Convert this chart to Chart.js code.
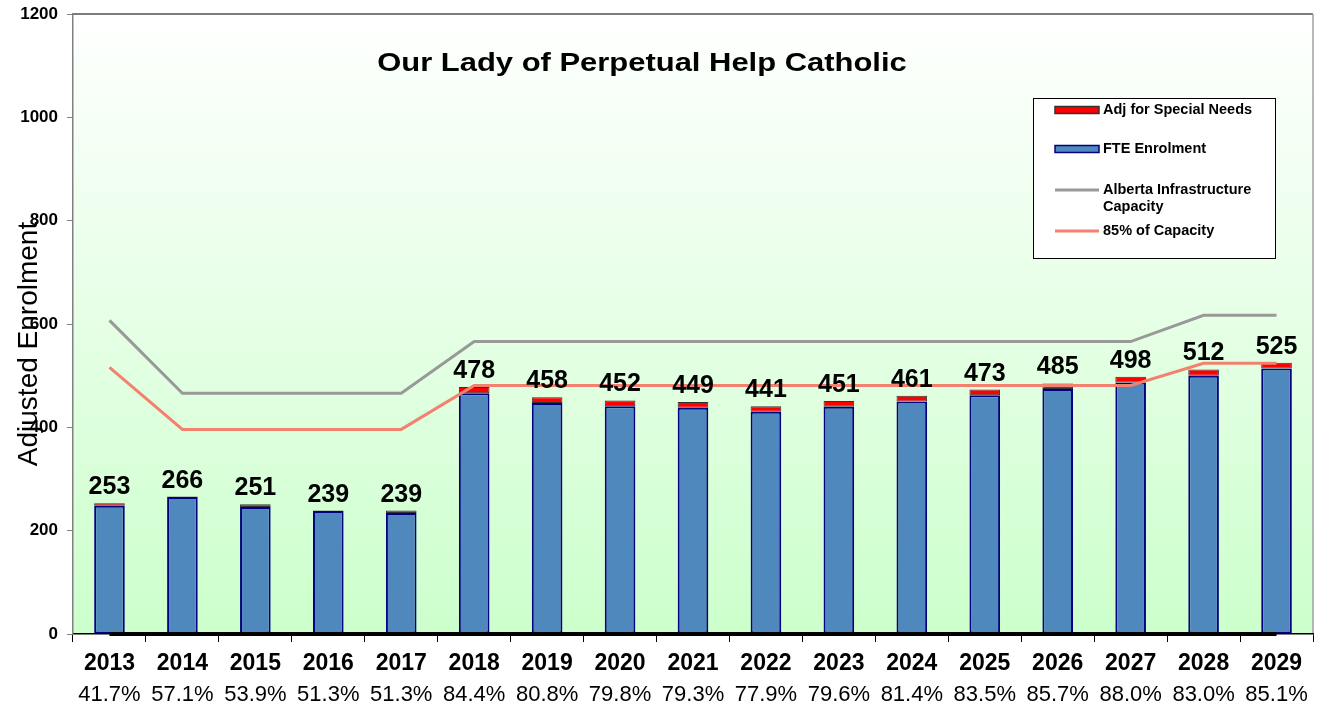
<!DOCTYPE html>
<html>
<head>
<meta charset="utf-8">
<title>Our Lady of Perpetual Help Catholic</title>
<script src="https://cdn.jsdelivr.net/npm/chart.js@4.4.0/dist/chart.umd.min.js"></script>
<style>
  html, body { margin: 0; padding: 0; background: #fff; }
  #wrap { width: 1328px; height: 713px; }
</style>
</head>
<body>
<div id="wrap"><canvas id="enrolment-chart" width="1328" height="713"></canvas></div>
<script>
// Values
const years = ['2013', '2014', '2015', '2016', '2017', '2018', '2019', '2020', '2021',
               '2022', '2023', '2024', '2025', '2026', '2027', '2028', '2029'];
const fteEnrolment = [248, 265, 246, 238, 234, 466, 447, 441, 438, 430, 440, 450, 462, 474, 487, 500, 514];
const adjSpecialNeeds = [5, 1, 5, 1, 5, 12, 11, 11, 11, 11, 11, 11, 11, 11, 11, 12, 11];
const capacity = [607, 466, 466, 466, 466, 566, 566, 566, 566, 566, 566, 566, 566, 566, 566, 617, 617];
const capacity85 = [516, 396, 396, 396, 396, 481, 481, 481, 481, 481, 481, 481, 481, 481, 481, 524, 524];
const baseline = [0, 0, 0, 0, 0, 0, 0, 0, 0, 0, 0, 0, 0, 0, 0, 0, 0];
const utilisation = ['41.7%', '57.1%', '53.9%', '51.3%', '51.3%', '84.4%', '80.8%', '79.8%', '79.3%',
                     '77.9%', '79.6%', '81.4%', '83.5%', '85.7%', '88.0%', '83.0%', '85.1%'];

const FONT = "'Liberation Sans', Arial, sans-serif";
Chart.defaults.font.family = FONT;
Chart.defaults.color = '#000';

// green gradient plot area with a thin frame on top and right
const plotBackground = {
    id: 'plotBackground',
    beforeDraw(chart) {
        const { ctx, chartArea: a } = chart;
        const g = ctx.createLinearGradient(0, a.top, 0, a.bottom);
        g.addColorStop(0, '#ffffff');
        g.addColorStop(1, '#ccffcc');
        ctx.save();
        ctx.fillStyle = g;
        ctx.fillRect(a.left, a.top, a.right - a.left, a.bottom - a.top);
        ctx.lineWidth = 1.5;
        ctx.beginPath();
        ctx.moveTo(a.left, a.top);
        ctx.lineTo(a.right, a.top);
        ctx.strokeStyle = '#505050';
        ctx.stroke();
        ctx.beginPath();
        ctx.moveTo(a.right, a.top);
        ctx.lineTo(a.right, a.bottom);
        ctx.strokeStyle = '#a0a0a0';
        ctx.stroke();
        ctx.restore();
    }
};

// total above every stacked bar
const totalLabels = {
    id: 'totalLabels',
    afterDatasetsDraw(chart) {
        const { ctx, scales: { x, y } } = chart;
        ctx.save();
        ctx.font = 'bold 25px ' + FONT;
        ctx.fillStyle = '#000';
        ctx.textAlign = 'center';
        ctx.textBaseline = 'alphabetic';
        years.forEach((yr, i) => {
            const total = fteEnrolment[i] + adjSpecialNeeds[i];
            ctx.fillText(String(total), x.getPixelForValue(i), y.getPixelForValue(total) - 9);
        });
        ctx.restore();
    }
};

// percentages under the year labels, titles and the boxed legend
const extras = {
    id: 'extras',
    afterDraw(chart) {
        const { ctx, chartArea: a, scales: { x } } = chart;
        ctx.save();

        ctx.font = '22px ' + FONT;
        ctx.fillStyle = '#000';
        ctx.textAlign = 'center';
        ctx.textBaseline = 'middle';
        utilisation.forEach((p, i) => {
            ctx.fillText(p, x.getPixelForValue(i), 695);
        });

        // chart title, a little wider than plain Arial like the original
        ctx.save();
        ctx.font = 'bold 26px ' + FONT;
        ctx.translate(642, 64);
        ctx.scale(1.19, 1);
        ctx.fillText('Our Lady of Perpetual Help Catholic', 0, 0);
        ctx.restore();

        // y axis title
        ctx.save();
        ctx.font = '28px ' + FONT;
        ctx.translate(29, 344);
        ctx.rotate(-Math.PI / 2);
        ctx.fillText('Adjusted Enrolment', 0, 0);
        ctx.restore();

        // legend
        const lx = a.right - 280, ly = a.top + 84, lw = 242, lh = 160;
        ctx.fillStyle = '#fff';
        ctx.fillRect(lx, ly, lw, lh);
        ctx.strokeStyle = '#000';
        ctx.lineWidth = 1;
        ctx.strokeRect(lx + 0.5, ly + 0.5, lw, lh);

        const rows = [12, 51, 92, 133];
        const order = [1, 0, 2, 3];
        ctx.font = 'bold 14.5px ' + FONT;
        ctx.textAlign = 'left';
        order.forEach((di, k) => {
            const ds = chart.data.datasets[di];
            const cy = ly + rows[k];
            if (ds.type === 'line') {
                ctx.strokeStyle = ds.borderColor;
                ctx.lineWidth = 3;
                ctx.beginPath();
                ctx.moveTo(lx + 22, cy);
                ctx.lineTo(lx + 66, cy);
                ctx.stroke();
            } else {
                ctx.fillStyle = ds.backgroundColor;
                ctx.fillRect(lx + 22, cy - 3.5, 44, 7);
                ctx.strokeStyle = ds.borderColor;
                ctx.lineWidth = 1.5;
                ctx.strokeRect(lx + 22, cy - 3.5, 44, 7);
            }
            // simple word wrap
            const words = ds.label.split(' ');
            const lines = [];
            let cur = '';
            words.forEach(w => {
                const t = cur ? cur + ' ' + w : w;
                if (ctx.measureText(t).width > 162 && cur) { lines.push(cur); cur = w; } else { cur = t; }
            });
            lines.push(cur);
            ctx.fillStyle = '#000';
            lines.forEach((ln, j) => ctx.fillText(ln, lx + 70, cy + j * 17));
        });

        ctx.restore();
    }
};

const ctx = document.getElementById('enrolment-chart').getContext('2d');
const enrolmentChart = new Chart(ctx, {
    type: 'bar',
    data: {
        labels: years,
        datasets: [
            {
                label: 'FTE Enrolment',
                data: fteEnrolment,
                backgroundColor: '#4f88bd',
                borderColor: '#000080',
                borderWidth: 2,
                borderSkipped: false,
                categoryPercentage: 1,
                barPercentage: 0.42,
                order: 1
            },
            {
                label: 'Adj for Special Needs',
                data: adjSpecialNeeds,
                backgroundColor: '#ff0000',
                borderColor: '#333333',
                borderWidth: 1,
                borderSkipped: false,
                categoryPercentage: 1,
                barPercentage: 0.42,
                order: 1
            },
            {
                type: 'line',
                label: 'Alberta Infrastructure Capacity',
                data: capacity,
                borderColor: '#999999',
                borderWidth: 3,
                pointRadius: 0,
                fill: false,
                stack: 'cap',
                order: 0
            },
            {
                type: 'line',
                label: '85% of Capacity',
                data: capacity85,
                borderColor: '#f2826f',
                borderWidth: 3,
                pointRadius: 0,
                fill: false,
                stack: 'cap85',
                order: 0
            },
            {
                type: 'line',
                label: 'Baseline',
                data: baseline,
                borderColor: '#000000',
                borderWidth: 4,
                pointRadius: 0,
                fill: false,
                clip: false,
                stack: 'base',
                order: -1
            }
        ]
    },
    options: {
        responsive: false,
        animation: false,
        layout: { padding: { top: 14, right: 15, left: 0, bottom: 0 } },
        plugins: {
            legend: { display: false },
            tooltip: { enabled: false }
        },
        scales: {
            x: {
                stacked: true,
                grid: { drawOnChartArea: false, tickLength: 8, color: '#000', offset: true },
                border: { color: '#000', width: 1.5 },
                ticks: {
                    color: '#000',
                    font: { size: 23, weight: 'bold' },
                    padding: 8,
                    maxRotation: 0,
                    autoSkip: false
                },
                afterFit(scale) {
                    scale.height = 79;
                    scale.paddingLeft = 0;
                    scale.paddingRight = 0;
                }
            },
            y: {
                stacked: true,
                min: 0,
                max: 1200,
                ticks: {
                    stepSize: 200,
                    color: '#000',
                    font: { size: 17, weight: 'bold' },
                    padding: 9,
                    callback: (v) => String(v)
                },
                grid: { drawOnChartArea: false, tickLength: 6, color: '#808080' },
                border: { color: '#808080', width: 1.5 },
                afterFit(scale) {
                    scale.width = 73;
                    scale.paddingTop = 0;
                    scale.paddingBottom = 0;
                }
            }
        }
    },
    plugins: [plotBackground, totalLabels, extras]
});
</script>
</body>
</html>
